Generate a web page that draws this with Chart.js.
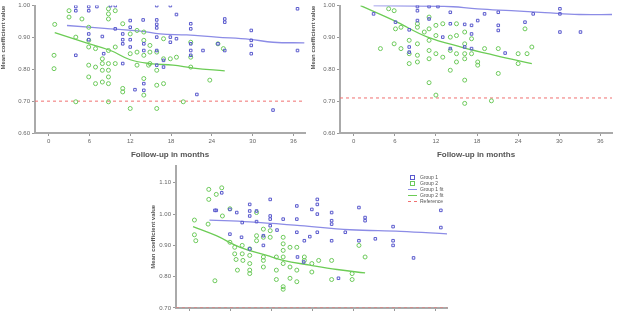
<!DOCTYPE html>
<html>
<head>
<meta charset="utf-8">
<script src="https://cdn.jsdelivr.net/npm/chart.js@4.4.1/dist/chart.umd.min.js"></script>
<style>
  html, body { margin:0; padding:0; background:#fff; }
  body { width:623px; height:315px; position:relative; overflow:hidden; font-family:"Liberation Sans", Arial, sans-serif; }
  canvas { position:absolute; }
  #legend { position:absolute; left:408px; top:174px; font-size:5px; color:#555; line-height:6px; }
  #legend div { display:flex; align-items:center; height:6px; }
  #legend .sw { width:9px; height:6px; margin-right:3px; display:flex; align-items:center; justify-content:center; }
</style>
</head>
<body>
<canvas id="c1" width="310" height="160" style="left:0;top:0"></canvas>
<canvas id="c2" width="313" height="160" style="left:310px;top:0"></canvas>
<canvas id="c3" width="310" height="190" style="left:150px;top:160px"></canvas>
<div id="legend"></div>
<script>
const COLORS = {
  blue: "#5a5acd",
  green: "#6cc95a",
  blueLine: "#8c8ce6",
  greenLine: "#6ccc55",
  red: "#f07070"
};

const X_MIN = -2, X_MAX = 37.7;
const X_STEP = 6;
const Y_TITLE = "Mean coefficient value";
const X_TITLE = "Follow-up in months";
const LABELS = ["Group 1", "Group 2", "Group 1 fit", "Group 2 fit", "Reference"];

// panel 1 [months, value]
const p1Blue = [[4.0,0.997],[4.0,0.984],[5.9,0.997],[5.9,0.984],[7.1,0.997],[9.1,1.0],[9.8,1.0],[15.9,1.0],[17.9,1.0],[18.8,0.972],
  [4.0,0.844],[5.9,0.911],[5.9,0.893],[7.9,0.903],[8.1,0.849],[9.8,0.927],[10.9,0.911],[10.9,0.893],[10.9,0.880],[10.9,0.818],
  [12.0,0.893],[12.0,0.870],[12.0,0.953],[12.0,0.932],[13.9,0.955],[14.0,0.880],[14.0,0.859],[14.0,0.755],[14.0,0.734],[15.9,0.955],
  [15.9,0.941],[15.9,0.930],[15.9,0.901],[15.9,0.859],[15.9,0.813],[16.9,0.828],[16.9,0.807],[17.9,0.901],[17.9,0.885],[18.8,0.896],
  [20.9,0.943],[20.9,0.927],[20.9,0.880],[20.9,0.859],[20.9,0.844],[22.7,0.859],[24.9,0.880],[25.9,0.958],[25.9,0.948],[25.9,0.859],
  [29.8,0.922],[29.8,0.891],[29.8,0.875],[29.8,0.849],[33.0,0.672],[36.6,0.990],[36.6,0.859],[21.8,0.721],[12.7,0.736]];
const p1Green = [[0.9,0.941],[0.8,0.844],[0.8,0.802],[3.0,0.964],[3.0,0.984],[4.0,0.901],[4.9,0.958],[5.9,0.891],[5.9,0.870],[5.9,0.813],
  [6.9,0.865],[6.9,0.807],[5.9,0.776],[6.9,0.755],[7.9,0.833],[7.9,0.818],[7.9,0.797],[7.9,0.760],[8.8,0.990],[8.8,0.974],
  [8.8,0.958],[8.8,0.859],[8.8,0.818],[8.8,0.797],[8.8,0.776],[8.8,0.755],[9.8,0.984],[9.8,0.870],[9.8,0.818],[10.9,0.943],
  [10.9,0.740],[10.9,0.729],[12.0,0.911],[12.0,0.849],[12.0,0.677],[13.0,0.922],[13.0,0.854],[13.0,0.813],[14.0,0.917],[14.0,0.891],
  [14.0,0.844],[14.0,0.771],[14.0,0.719],[14.9,0.875],[14.9,0.854],[14.9,0.818],[15.9,0.854],[15.9,0.797],[15.9,0.750],[15.9,0.677],
  [16.9,0.896],[16.9,0.833],[16.9,0.755],[17.9,0.833],[18.8,0.838],[19.8,0.698],[20.9,0.885],[20.9,0.838],[20.9,0.807],[23.7,0.766],
  [24.9,0.880],[25.7,0.865],[4.0,0.698],[8.8,0.698],[14.7,0.813],[5.9,0.932]];
const p1BlueFit = [[2.7,0.9375],[9.1,0.927],[13.5,0.920],[16.4,0.911],[20.3,0.908],[24.7,0.901],[29.6,0.894],[33.0,0.885],[37.6,0.883]];
const p1GreenFit = [[0.9,0.915],[5.2,0.885],[9.1,0.859],[12.0,0.830],[14.9,0.818],[18.3,0.813],[21.3,0.804],[25.9,0.795]];

// panel 2
const p2Blue = [[2.9,0.974],[6.1,0.948],[8.1,0.924],[9.3,0.997],[9.3,0.984],[9.3,0.953],[11.0,0.997],[11.0,0.958],[12.3,0.997],[14.1,0.979],
  [14.1,0.943],[13.0,0.901],[16.2,0.941],[17.2,0.911],[17.2,0.938],[18.1,0.953],[19.1,0.974],[21.1,0.979],[21.1,0.938],[21.1,0.922],
  [22.1,0.851],[25.0,0.948],[26.2,0.974],[30.1,0.990],[30.1,0.974],[30.1,0.917],[33.1,0.917],[8.1,0.870],[8.1,0.854],[14.1,0.865],
  [16.2,0.870],[17.2,0.865]];
const p2Green = [[3.9,0.865],[5.1,0.990],[5.9,0.880],[6.1,0.927],[6.9,0.865],[8.1,0.891],[8.1,0.849],[8.1,0.818],[9.3,0.880],[9.3,0.844],
  [9.3,0.823],[9.3,0.943],[9.3,0.932],[10.3,0.917],[11.0,0.964],[11.0,0.927],[11.0,0.891],[11.0,0.859],[11.0,0.833],[11.0,0.758],
  [12.0,0.938],[12.0,0.906],[12.0,0.849],[12.0,0.719],[13.0,0.943],[13.0,0.838],[14.1,0.901],[14.1,0.859],[14.1,0.797],[15.0,0.943],
  [15.0,0.906],[15.0,0.849],[15.0,0.823],[16.2,0.917],[16.2,0.880],[16.2,0.849],[16.2,0.833],[16.2,0.766],[16.2,0.693],[17.2,0.896],
  [17.2,0.849],[18.1,0.823],[18.1,0.813],[19.1,0.865],[20.1,0.701],[21.1,0.865],[21.1,0.787],[24.0,0.849],[24.0,0.818],[25.0,0.927],
  [25.3,0.849],[26.0,0.870],[5.9,0.984],[6.9,0.932]];
const p2BlueFit = [[2.9,1.0],[13.2,0.998],[18.1,0.99],[23.0,0.984],[27.9,0.978],[32.9,0.972],[38.0,0.972]];
const p2GreenFit = [[1.0,1.0],[5.9,0.953],[10.8,0.901],[15.7,0.870],[20.6,0.844],[26.0,0.818]];

// panel 3
const p3Blue = [[4.7,1.068],[3.7,1.012],[3.9,1.012],[5.9,1.015],[6.9,1.005],[7.7,0.973],[8.8,1.031],[8.8,1.010],[8.8,0.994],[9.8,0.976],
  [9.8,1.010],[10.8,0.931],[11.8,1.047],[11.8,0.994],[11.8,0.984],[11.8,0.963],[12.8,0.949],[13.7,0.984],[15.7,1.026],[15.7,0.984],
  [15.7,0.942],[16.8,0.915],[17.6,0.928],[17.9,1.015],[18.7,1.047],[18.7,1.031],[18.7,1.000],[18.7,0.942],[20.8,1.005],[20.8,0.979],
  [20.8,0.968],[20.8,0.915],[22.8,0.942],[24.8,1.021],[24.8,0.915],[25.7,0.989],[25.7,0.979],[27.2,0.921],[29.8,0.960],[29.8,0.915],
  [29.8,0.900],[32.8,0.860],[36.8,1.012],[36.8,0.957],[21.8,0.795],[16.7,0.847],[15.8,0.863],[10.8,0.900],[5.9,0.936],[7.6,0.926],
  [8.8,0.889]];
const p3Green = [[2.8,1.079],[2.8,1.047],[4.7,1.084],[3.9,1.063],[4.8,0.994],[0.7,0.981],[0.7,0.934],[0.9,0.915],[2.7,0.968],[3.7,0.787],
  [5.9,1.017],[5.9,0.910],[6.6,0.894],[6.6,0.873],[6.8,0.855],[7.0,0.821],[7.7,0.900],[7.7,0.873],[7.8,0.852],[8.8,0.889],
  [8.8,0.868],[8.8,0.842],[8.8,0.821],[8.8,0.810],[9.8,1.005],[9.8,0.931],[9.8,0.915],[10.8,0.952],[10.8,0.926],[10.8,0.863],
  [10.8,0.852],[10.8,0.831],[11.8,0.947],[11.8,0.926],[12.7,0.863],[12.7,0.821],[12.7,0.791],[13.7,0.926],[13.7,0.905],[13.7,0.884],
  [13.7,0.863],[13.7,0.842],[13.7,0.768],[13.7,0.760],[14.7,0.894],[14.7,0.831],[14.7,0.795],[15.7,0.894],[15.7,0.821],[15.7,0.784],
  [16.8,0.863],[16.8,0.852],[17.9,0.842],[17.9,0.815],[18.9,0.852],[20.8,0.852],[20.8,0.791],[23.8,0.810],[23.8,0.791],[24.8,0.900],
  [25.7,0.863]];
const p3BlueFit = [[2.9,0.981],[8.8,0.975],[16.2,0.963],[23.5,0.950],[30.9,0.945],[37.75,0.937]];
const p3GreenFit = [[0.5,0.96],[3.9,0.931],[7.4,0.894],[11.3,0.868],[13.7,0.852],[17.6,0.837],[21.6,0.823],[25.7,0.812]];

const pts = (arr) => arr.map(([x, y]) => ({ x, y }));

function panel(id, cfg){
  return new Chart(document.getElementById(id), {
    type: "scatter",
    data: {
      datasets: [
        { label: LABELS[0], data: pts(cfg.blue), pointStyle: "rect", pointRadius: 1.8,
          borderColor: COLORS.blue, backgroundColor: "rgba(0,0,0,0)", borderWidth: 1 },
        { label: LABELS[1], data: pts(cfg.green), pointStyle: "circle", pointRadius: 2,
          borderColor: COLORS.green, backgroundColor: "rgba(0,0,0,0)", borderWidth: 1 },
        { label: LABELS[2], data: pts(cfg.blueFit), showLine: true, pointRadius: 0,
          borderColor: COLORS.blueLine, borderWidth: 1.3, tension: 0.4 },
        { label: LABELS[3], data: pts(cfg.greenFit), showLine: true, pointRadius: 0,
          borderColor: COLORS.greenLine, borderWidth: 1.3, tension: 0.4 },
        { label: LABELS[4], data: [{ x: X_MIN, y: cfg.cut }, { x: X_MAX, y: cfg.cut }], showLine: true,
          pointRadius: 0, borderColor: COLORS.red, borderDash: [3, 3], borderWidth: 1 }
      ]
    },
    options: {
      responsive: false,
      animation: false,
      layout: { padding: cfg.pad },
      plugins: { legend: { display: false }, tooltip: { enabled: false } },
      scales: {
        x: {
          min: X_MIN, max: X_MAX,
          ticks: { stepSize: X_STEP, includeBounds: false, font: { size: 6 }, color: "#666", padding: cfg.xtp, maxRotation: 0 },
          grid: { drawOnChartArea: false, tickLength: 3, color: "#999" },
          border: { color: "#aaa", width: 2 },
          title: { display: true, text: X_TITLE, font: { size: 8, weight: "bold" }, color: "#555", padding: { top: 1, bottom: 0 } },
          afterFit: (s) => { s.height = cfg.xh; }
        },
        y: {
          min: cfg.yMin, max: cfg.yMax,
          ticks: { stepSize: 0.1, includeBounds: false, font: { size: 6 }, color: "#666", padding: 2,
                   callback: (v) => v.toFixed(2) },
          grid: { drawOnChartArea: false, tickLength: 3, color: "#999" },
          border: { color: "#aaa", width: 2 },
          title: { display: true, text: Y_TITLE, align: cfg.ya, font: { size: 6, weight: "bold" }, color: "#555", padding: 0 },
          afterFit: (s) => { s.width = cfg.yw; }
        }
      }
    }
  });
}

panel("c1", { blue: p1Blue, green: p1Green, blueFit: p1BlueFit, greenFit: p1GreenFit, cut: 0.70,
  yMin: 0.6, yMax: 1.0, pad: { top: 5, right: 5, left: 0, bottom: 0 }, yw: 35, xh: 27, xtp: 2, ya: "end" });
panel("c2", { blue: p2Blue, green: p2Green, blueFit: p2BlueFit, greenFit: p2GreenFit, cut: 0.71,
  yMin: 0.6, yMax: 1.0, pad: { top: 5, right: 11, left: 0, bottom: 0 }, yw: 30, xh: 27, xtp: 2, ya: "end" });
const c3 = panel("c3", { blue: p3Blue, green: p3Green, blueFit: p3BlueFit, greenFit: p3GreenFit, cut: 0.70,
  yMin: 0.7, yMax: 1.155, pad: { top: 4, right: 13, left: 0, bottom: 0 }, yw: 26, xh: 42, xtp: 6, ya: "center" });

// legend for bottom panel
const legendEl = document.getElementById("legend");
c3.data.datasets.forEach((ds, i) => {
  const row = document.createElement("div");
  const sw = document.createElement("span");
  sw.className = "sw";
  const mark = document.createElement("span");
  if (i < 2) {
    mark.style.cssText = `width:3px;height:3px;border:1px solid ${ds.borderColor};`;
  } else {
    mark.style.cssText = `width:9px;height:0;border-top:1px ${ds.borderDash ? "dashed" : "solid"} ${ds.borderColor};`;
  }
  sw.appendChild(mark);
  row.appendChild(sw);
  row.appendChild(document.createTextNode(ds.label));
  legendEl.appendChild(row);
});
</script>
</body>
</html>
